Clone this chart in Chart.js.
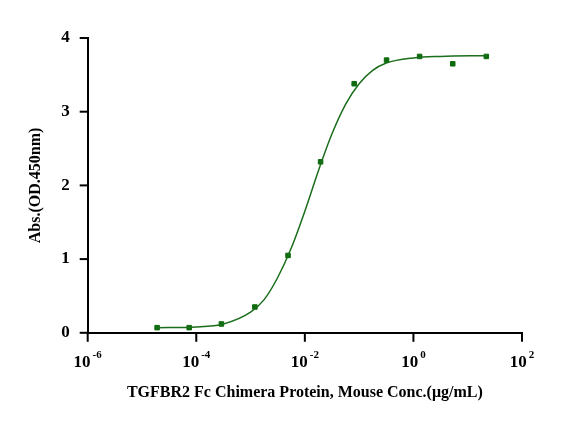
<!DOCTYPE html>
<html>
<head>
<meta charset="utf-8">
<script src="https://cdn.jsdelivr.net/npm/chart.js@4"></script>
<style>
  html, body { margin: 0; padding: 0; background: #fff; }
  #wrap { width: 584px; height: 433px; }
</style>
</head>
<body>
<div id="wrap"><canvas id="c" width="584" height="433"></canvas></div>
<script>
// measured points
const concentrations = [1.9e-5, 7.4e-5, 2.9e-4, 1.2e-3, 4.9e-3, 0.0195, 0.081, 0.32, 1.3, 5.3, 22];
const absorbance = [0.07, 0.07, 0.12, 0.35, 1.05, 2.32, 3.38, 3.70, 3.75, 3.65, 3.75];

// fitted curve
const curveLogX = [-4.73, -4.0, -3.5, -3.0, -2.75, -2.5, -2.25, -2.0, -1.75, -1.5, -1.25, -1.0, -0.75, -0.5, 0.0, 0.5, 1.35];
const curveY = [0.07, 0.08, 0.12, 0.28, 0.45, 0.75, 1.15, 1.65, 2.2, 2.7, 3.1, 3.38, 3.56, 3.66, 3.73, 3.75, 3.76];

const xTicks = [1e-6, 1e-4, 1e-2, 1e0, 1e2];
const xTickExponents = ['-6', '-4', '-2', '0', '2'];
const yTicks = [0, 1, 2, 3, 4];

const green = '#1b6e1b';
const serif = '"Liberation Serif", "Times New Roman", serif';

new Chart(document.getElementById('c'), {
    type: 'scatter',
    data: {
        datasets: [
            {
                label: 'fit',
                data: curveLogX.map((lx, i) => ({ x: Math.pow(10, lx), y: curveY[i] })),
                showLine: true,
                borderColor: green,
                borderWidth: 1.5,
                pointRadius: 0,
                cubicInterpolationMode: 'monotone'
            },
            {
                label: 'data',
                data: concentrations.map((c, i) => ({ x: c, y: absorbance[i] })),
                pointStyle: 'rect',
                pointRadius: 3.2,
                backgroundColor: '#0d6b0d',
                borderColor: '#0d6b0d'
            }
        ]
    },
    options: {
        responsive: false,
        animation: false,
        layout: { padding: { left: 22, right: 62, top: 38, bottom: 27 } },
        plugins: { legend: { display: false }, tooltip: { enabled: false } },
        scales: {
            x: {
                type: 'logarithmic',
                min: 1e-6,
                max: 1e2,
                afterBuildTicks: axis => { axis.ticks = xTicks.map(v => ({ value: v })); },
                ticks: { display: false },
                grid: { display: false },
                border: { color: '#000', width: 2 },
                title: {
                    display: true,
                    text: 'TGFBR2 Fc Chimera Protein, Mouse Conc.(μg/mL)',
                    color: '#000',
                    font: { family: serif, size: 16, weight: 'bold' },
                    padding: { top: 42 }
                }
            },
            y: {
                min: 0,
                max: 4,
                afterBuildTicks: axis => { axis.ticks = yTicks.map(v => ({ value: v })); },
                ticks: {
                    color: '#000',
                    padding: 10,
                    font: { family: serif, size: 17, weight: 'bold' }
                },
                grid: { display: false },
                border: { color: '#000', width: 2 },
                title: {
                    display: true,
                    text: 'Abs.(OD.450nm)',
                    color: '#000',
                    font: { family: serif, size: 16, weight: 'bold' },
                    padding: { bottom: 6 }
                }
            }
        }
    },
    plugins: [{
        // outward tick marks and superscript x labels
        id: 'tickMarks',
        afterDraw(chart) {
            const ctx = chart.ctx, xs = chart.scales.x, ys = chart.scales.y;
            ctx.save();
            ctx.strokeStyle = '#000';
            ctx.fillStyle = '#000';
            ctx.lineWidth = 2;
            xTicks.forEach((v, i) => {
                const px = xs.getPixelForValue(v);
                ctx.beginPath(); ctx.moveTo(px, ys.bottom); ctx.lineTo(px, ys.bottom + 9); ctx.stroke();
                ctx.font = 'bold 17px ' + serif;
                const baseW = ctx.measureText('10').width;
                ctx.font = 'bold 11px ' + serif;
                const expW = ctx.measureText(xTickExponents[i]).width;
                const x0 = px - (baseW + expW + 2) / 2;
                ctx.textBaseline = 'alphabetic';
                ctx.textAlign = 'left';
                ctx.font = 'bold 17px ' + serif;
                ctx.fillText('10', x0, ys.bottom + 34);
                ctx.font = 'bold 11px ' + serif;
                ctx.fillText(xTickExponents[i], x0 + baseW + 2, ys.bottom + 25);
            });
            yTicks.forEach(v => {
                const py = ys.getPixelForValue(v);
                ctx.beginPath(); ctx.moveTo(xs.left, py); ctx.lineTo(xs.left - 8, py); ctx.stroke();
            });
            ctx.restore();
        }
    }]
});
</script>
</body>
</html>
